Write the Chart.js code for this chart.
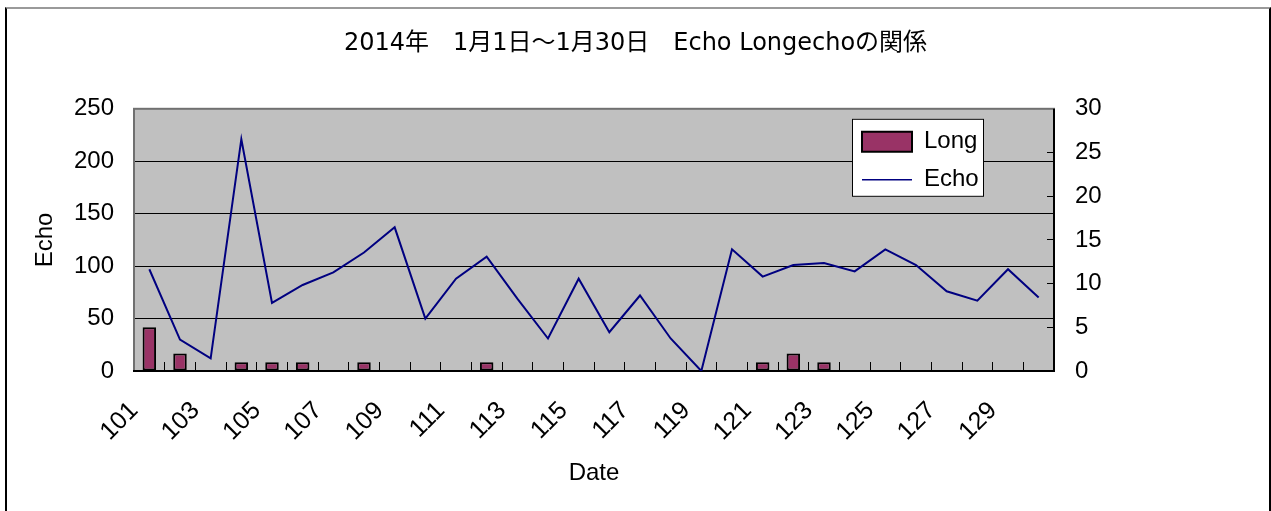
<!DOCTYPE html>
<html>
<head>
<meta charset="utf-8">
<script src="https://cdn.jsdelivr.net/npm/chart.js@4.4.1/dist/chart.umd.min.js"></script>
<style>
  html, body { margin: 0; padding: 0; background: #fff; }
  #wrap { position: relative; width: 1271px; height: 511px; overflow: hidden; }
  #frame {
    position: absolute; left: 5px; top: 7px; width: 1266px; height: 530px;
    border: 2px solid #000; border-top-color: #9a9a9a; box-sizing: border-box;
    pointer-events: none;
  }
</style>
</head>
<body>
<div id="wrap">
  <canvas id="chart" width="1271" height="511"></canvas>
  <div id="frame"></div>
</div>
<script>
// daily values, 1/1 .. 1/30
const dates = ['101', '102', '103', '104', '105', '106', '107', '108', '109', '110',
               '111', '112', '113', '114', '115', '116', '117', '118', '119', '120',
               '121', '122', '123', '124', '125', '126', '127', '128', '129', '130'];
const echo = [97, 30, 12, 221, 65, 82, 94, 113, 137, 50,
              88, 109, 69, 31, 88, 37, 72, 31, 0, 116,
              90, 101, 103, 95, 116, 101, 76, 67, 97, 70];
const longCounts = [5, 2, 0, 1, 1, 1, 0, 1, 0, 0,
                    0, 1, 0, 0, 0, 0, 0, 0, 0, 0,
                    1, 2, 1, 0, 0, 0, 0, 0, 0, 0];

const FONT = '"Liberation Sans", Arial, "Noto Sans CJK JP", sans-serif';
const TITLE_FONT = '"DejaVu Sans", "Noto Sans CJK JP", sans-serif';

// grey plot background + frame around the chart area
const plotFrame = {
  id: 'plotFrame',
  beforeDraw(chart) {
    const { ctx, chartArea: a } = chart;
    ctx.save();
    ctx.fillStyle = '#c0c0c0';
    ctx.fillRect(a.left, a.top, a.width, a.height);
    ctx.restore();
  },
  beforeDatasetsDraw(chart) {
    const { ctx, chartArea: a } = chart;
    ctx.save();
    ctx.lineWidth = 2;
    ctx.strokeStyle = '#707070';
    ctx.strokeRect(a.left, a.top, a.width, a.height);
    ctx.strokeStyle = '#000';
    ctx.beginPath();
    ctx.moveTo(a.left - 1, a.bottom);
    ctx.lineTo(a.right + 1, a.bottom);
    ctx.moveTo(a.right, a.top);
    ctx.lineTo(a.right, a.bottom);
    ctx.stroke();
    ctx.restore();
  }
};

// legend sits in the top-right of the plot on a white box
const legendBox = {
  id: 'legendBox',
  afterLayout(chart) {
    const lg = chart.legend, a = chart.chartArea;
    lg.left = a.right - 206;
    lg.top = a.top + 7;
    lg.right = lg.left + lg.width;
    lg.bottom = lg.top + lg.height;
  },
  afterDatasetsDraw(chart) {
    const lg = chart.legend, a = chart.chartArea, ctx = chart.ctx;
    const bx = a.right - 202, by = a.top + 10;
    ctx.save();
    ctx.fillStyle = '#fff';
    ctx.fillRect(bx, by, 132, 78);
    ctx.strokeStyle = '#000';
    ctx.lineWidth = 1;
    ctx.strokeRect(bx + 0.5, by + 0.5, 131, 77);
    ctx.restore();
    lg.draw();
  }
};

new Chart(document.getElementById('chart'), {
  type: 'bar',
  data: {
    labels: dates,
    datasets: [
      {
        type: 'bar',
        label: 'Long',
        data: longCounts,
        yAxisID: 'y1',
        backgroundColor: '#993366',
        borderColor: '#000',
        borderWidth: 2,
        borderSkipped: false,
        barPercentage: 0.44,
        categoryPercentage: 1,
        pointStyle: 'rect',
        order: 2
      },
      {
        type: 'line',
        label: 'Echo',
        data: echo,
        yAxisID: 'y',
        borderColor: '#000080',
        borderWidth: 2,
        pointRadius: 0,
        pointStyle: 'line',
        pointBorderColor: '#000080',
        pointBorderWidth: 1.5,
        tension: 0,
        fill: false,
        order: 1
      }
    ]
  },
  options: {
    responsive: false,
    animation: false,
    layout: { padding: 0 },
    plugins: {
      title: {
        display: true,
        text: '2014年　1月1日～1月30日　Echo Longechoの関係',
        color: '#000',
        font: { family: TITLE_FONT, size: 24, weight: 'normal', lineHeight: 1.2 },
        padding: { top: 29, bottom: 51 }
      },
      legend: {
        position: 'chartArea',
        align: 'start',
        labels: {
          usePointStyle: true,
          pointStyleWidth: 50,
          boxWidth: 50,
          boxHeight: 20,
          padding: 14,
          color: '#000',
          font: { family: FONT, size: 24, lineHeight: 1.15 },
          sort: (a, b) => a.datasetIndex - b.datasetIndex
        }
      },
      tooltip: { enabled: false }
    },
    scales: {
      x: {
        offset: true,
        afterFit: (scale) => { scale.height = 140; },
        border: { display: false },
        grid: {
          display: true,
          offset: true,
          drawOnChartArea: false,
          drawTicks: true,
          tickLength: -9,
          color: '#000'
        },
        ticks: {
          autoSkip: false,
          minRotation: 45,
          maxRotation: 45,
          padding: 34,
          labelOffset: -15,
          color: '#000',
          font: { family: FONT, size: 25 },
          callback: function (value, index) {
            return index % 2 === 0 ? this.getLabelForValue(value) : '';
          }
        },
        title: {
          display: true,
          text: 'Date',
          color: '#000',
          font: { family: FONT, size: 24 },
          padding: { top: 0, bottom: 23 }
        }
      },
      y: {
        position: 'left',
        min: 0,
        max: 250,
        afterFit: (scale) => { scale.width = 134; },
        border: { display: false },
        grid: {
          drawTicks: false,
          color: (c) => (c.tick && (c.tick.value === 0 || c.tick.value === 250)) ? 'rgba(0,0,0,0)' : '#000',
          lineWidth: 1
        },
        ticks: {
          stepSize: 50,
          padding: 20,
          color: '#000',
          font: { family: FONT, size: 24 }
        },
        title: {
          display: true,
          text: 'Echo',
          color: '#000',
          font: { family: FONT, size: 24 },
          padding: { top: 31, bottom: 0 }
        }
      },
      y1: {
        position: 'right',
        min: 0,
        max: 30,
        afterFit: (scale) => { scale.width = 217; },
        border: { display: false },
        grid: {
          drawOnChartArea: false,
          drawTicks: true,
          tickLength: -7,
          color: '#000'
        },
        ticks: {
          stepSize: 5,
          padding: 28,
          color: '#000',
          font: { family: FONT, size: 24 }
        }
      }
    }
  },
  plugins: [plotFrame, legendBox]
});
</script>
</body>
</html>
